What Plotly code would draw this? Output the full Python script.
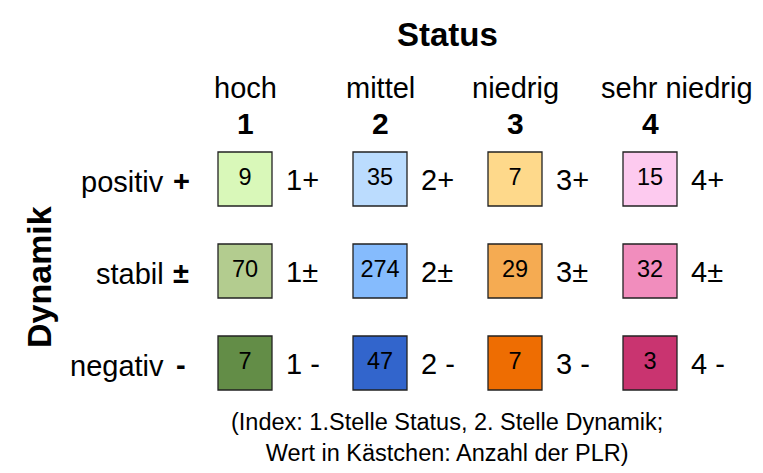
import plotly.graph_objects as go

# ---- data ----
status_names = ["hoch", "mittel", "niedrig", "sehr niedrig"]
status_codes = ["1", "2", "3", "4"]
dyn_names = ["positiv", "stabil", "negativ"]
dyn_signs = ["+", "±", "-"]
index_signs = ["+", "±", " -"]
counts = [
    [9, 35, 7, 15],
    [70, 274, 29, 32],
    [7, 47, 7, 3],
]
cell_colors = [
    ["#d9f8b9", "#bbdcfe", "#fed98b", "#fdcaef"],
    ["#b3cc8f", "#85bbfd", "#f5ab52", "#f18dbd"],
    ["#638d47", "#3265cc", "#ee6d02", "#c93470"],
]
title_top = "Status"
title_left = "Dynamik"
footnote = "(Index: 1.Stelle Status, 2. Stelle Dynamik;<br>Wert in Kästchen: Anzahl der PLR)"

# style: horizontal nudge of the header names (px)
header_shift = [0, 0, 0, 27]

OFF = 8  # browser body margin
W, H = 763 - OFF, 473 - OFF
FONT = "Liberation Sans, Arial, sans-serif"

# screen-pixel geometry -> axis ranges (column i at 245+135*i px, row j at 179+92*j px)
x0px, dx = 245 - OFF, 135
y0px, dy = 179 - OFF, 92
xr = [-x0px / dx, (W - x0px) / dx]
yr = [(H - y0px) / dy, -y0px / dy]

def ypx(p):
    return (p - OFF - y0px) / dy

def xpx(p):
    return (p - OFF - x0px) / dx

xs, ys, txt, cols, idx = [], [], [], [], []
for j, row in enumerate(counts):
    for i, v in enumerate(row):
        xs.append(i)
        ys.append(j)
        txt.append(str(v))
        cols.append(cell_colors[j][i])
        idx.append(status_codes[i] + index_signs[j])

fig = go.Figure()
fig.add_trace(go.Scatter(
    x=xs, y=ys, mode="markers+text", text=txt,
    textposition="middle center",
    textfont=dict(family=FONT, size=23.5, color="#000000"),
    marker=dict(symbol="square", size=54, color=cols,
                line=dict(color="#222222", width=1.3)),
    hoverinfo="skip", showlegend=False,
))

ann = []
# index labels next to each square
for k in range(len(xs)):
    ann.append(dict(x=xs[k], y=ys[k], xref="x", yref="y", text=idx[k],
                    showarrow=False, xanchor="left", yanchor="middle",
                    xshift=39, yshift=-1,
                    font=dict(family=FONT, size=29, color="#000000")))
# column headers
for i, (n, c) in enumerate(zip(status_names, status_codes)):
    ann.append(dict(x=i, y=ypx(88), xref="x", yref="y", text=n, showarrow=False,
                    xanchor="center", yanchor="middle", xshift=header_shift[i],
                    font=dict(family=FONT, size=29, color="#000000")))
    ann.append(dict(x=i, y=ypx(123), xref="x", yref="y", text="<b>" + c + "</b>",
                    showarrow=False, xanchor="center", yanchor="middle",
                    font=dict(family=FONT, size=30, color="#000000")))
# row labels
for j, (n, s) in enumerate(zip(dyn_names, dyn_signs)):
    ann.append(dict(x=xpx(166), y=j, xref="x", yref="y", text=n, showarrow=False,
                    xanchor="right", yanchor="middle", yshift=-3,
                    font=dict(family=FONT, size=29, color="#000000")))
    ann.append(dict(x=xpx(181), y=j, xref="x", yref="y", text="<b>" + s + "</b>",
                    showarrow=False, xanchor="center", yanchor="middle", yshift=-2,
                    font=dict(family=FONT, size=29, color="#000000")))
# titles
ann.append(dict(x=xpx(447), y=ypx(34), xref="x", yref="y", text="<b>" + title_top + "</b>",
                showarrow=False, xanchor="center", yanchor="middle",
                font=dict(family=FONT, size=33, color="#000000")))
ann.append(dict(x=xpx(39), y=ypx(277), xref="x", yref="y", text="<b>" + title_left + "</b>",
                showarrow=False, xanchor="center", yanchor="middle", textangle=-90,
                font=dict(family=FONT, size=34, color="#000000")))
ann.append(dict(x=xpx(447), y=ypx(437), xref="x", yref="y", text=footnote,
                showarrow=False, xanchor="center", yanchor="middle", align="center",
                font=dict(family=FONT, size=23.5, color="#000000")))

fig.update_layout(
    width=W, height=H,
    margin=dict(l=0, r=0, t=0, b=0),
    paper_bgcolor="#ffffff", plot_bgcolor="#ffffff",
    xaxis=dict(range=xr, visible=False, fixedrange=True),
    yaxis=dict(range=yr, visible=False, fixedrange=True),
    annotations=ann,
)
fig.write_html("out.html")
